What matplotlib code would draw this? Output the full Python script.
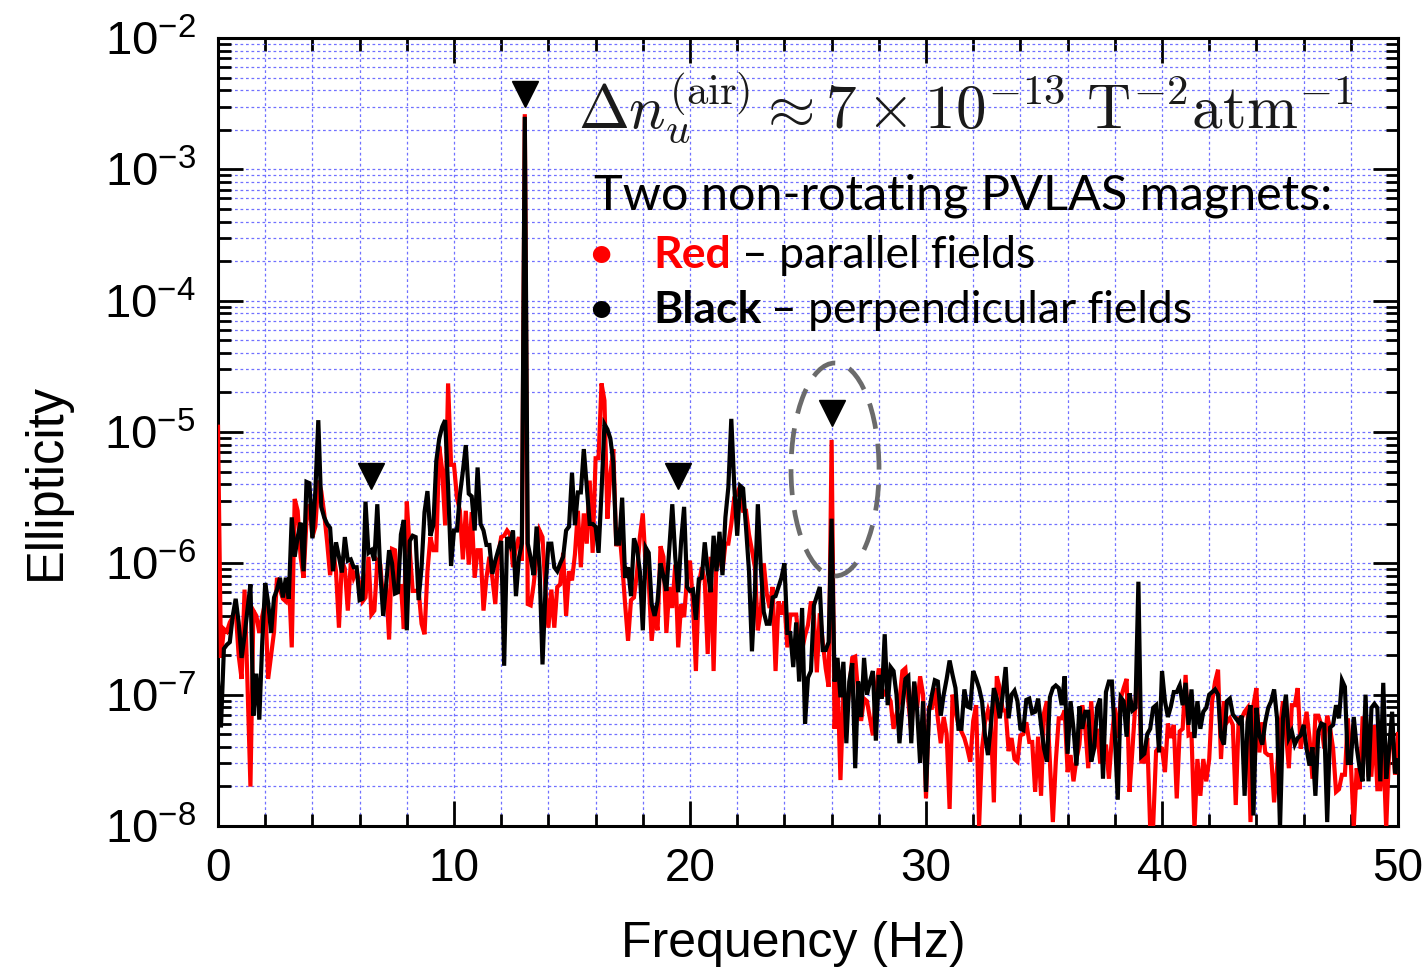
import numpy as np
import matplotlib
matplotlib.use("Agg")
import matplotlib.pyplot as plt
from matplotlib.ticker import MultipleLocator, LogLocator, NullFormatter, FixedLocator, FixedFormatter
from matplotlib.patches import Ellipse

plt.rcParams['font.family'] = ['Liberation Sans', 'DejaVu Sans']
plt.rcParams['mathtext.fontset'] = 'custom'
plt.rcParams['mathtext.rm'] = 'Liberation Sans'
plt.rcParams['mathtext.it'] = 'Liberation Sans:italic'
plt.rcParams['mathtext.bf'] = 'Liberation Sans:bold'

# ---------------- data (frequency bins 0.125 Hz, ellipticity as log10) ----------------
freq_hz = np.linspace(0, 50, 401)

black_log10 = [
    -6.9, -7.25, -6.65, -6.62, -6.6, -6.4, -6.27, -6.45, -6.72, -6.55,
    -6.35, -6.16, -7.16, -6.84, -7.19, -6.6, -6.15, -6.3, -6.53, -6.26,
    -6.2, -6.11, -6.26, -6.11, -6.27, -5.65, -5.95, -5.8, -5.69, -6.06,
    -5.38, -5.39, -5.81, -5.45, -4.91, -5.57, -5.65, -5.7, -5.73, -6.06,
    -5.84, -5.95, -6.07, -5.8, -5.98, -5.97, -6.03, -6.03, -6.28, -6.27,
    -5.53, -5.92, -5.9, -5.98, -5.55, -6.06, -6.4, -6.16, -5.9, -6.0,
    -6.23, -6.22, -5.78, -5.67, -6.51, -5.83, -5.79, -5.8, -6.28, -6.03,
    -5.61, -5.45, -5.79, -5.71, -5.22, -5.05, -4.96, -4.91, -5.42, -6.02,
    -5.75, -5.75, -5.48, -5.3, -5.1, -5.47, -5.49, -5.75, -5.27, -5.7,
    -5.75, -5.86, -5.86, -6.08, -5.98, -5.9, -5.83, -6.78, -5.8, -5.86,
    -5.75, -6.25, -5.96, -5.85, -2.6, -5.85, -5.96, -6.09, -5.72, -6.03,
    -6.77, -6.2, -5.85, -5.85, -6.03, -6.06, -6.0, -5.95, -5.75, -5.72,
    -5.31, -5.71, -5.46, -5.46, -5.13, -5.42, -5.7, -5.7, -5.72, -5.92,
    -5.46, -4.94, -4.98, -5.05, -5.23, -5.85, -5.85, -5.5, -6.11, -6.03,
    -6.25, -5.81, -5.88, -6.06, -6.51, -5.88, -5.92, -6.31, -6.4, -6.29,
    -6.0, -6.1, -6.21, -5.88, -5.55, -5.95, -6.22, -5.83, -5.57, -6.18,
    -6.21, -6.2, -6.43, -6.12, -6.11, -5.84, -6.06, -6.22, -5.79, -6.06,
    -5.76, -6.09, -5.65, -5.42, -4.9, -5.41, -5.79, -5.41, -5.43, -5.73,
    -6.06, -6.67, -6.21, -5.55, -6.03, -6.37, -6.46, -6.46, -6.26, -6.25,
    -6.18, -6.11, -6.0, -6.53, -6.53, -6.79, -6.45, -6.9, -6.34, -7.22,
    -6.87, -6.82, -6.32, -6.25, -6.18, -6.66, -6.66, -6.6, -5.66, -6.9,
    -6.72, -7.02, -6.75, -7.37, -6.9, -6.76, -7.56, -6.9, -7.17, -6.72,
    -7.0, -6.9, -6.82, -7.35, -6.85, -7.03, -6.54, -7.08, -6.79, -6.82,
    -7.0, -7.37, -7.1, -6.88, -6.86, -7.37, -6.9, -7.12, -7.52, -7.05,
    -7.74, -7.13, -7.0, -6.89, -6.9, -7.16, -7.0, -6.88, -6.74, -6.85,
    -6.95, -7.26, -7.26, -6.96, -7.09, -7.1, -6.82, -6.88, -6.95, -7.05,
    -7.31, -7.46, -7.23, -6.95, -7.03, -7.18, -7.0, -6.79, -7.18, -7.0,
    -6.97, -7.05, -7.26, -7.27, -7.04, -7.03, -7.14, -7.13, -7.03, -7.23,
    -7.41, -7.51, -7.02, -6.95, -6.93, -6.95, -7.08, -6.86, -7.45, -7.05,
    -7.26, -7.54, -7.09, -7.26, -7.13, -7.13, -7.51, -7.41, -7.1, -7.03,
    -7.64, -6.98, -6.9, -6.9, -7.3, -7.8, -7.02, -7.05, -7.32, -6.99,
    -7.12, -7.1, -6.14, -7.47, -7.45, -7.3, -7.26, -7.1, -7.08, -7.44,
    -6.82, -7.05, -7.17, -7.09, -6.98, -6.98, -6.93, -7.08, -6.91, -7.23,
    -6.96, -7.33, -7.05, -7.26, -7.13, -7.1, -7.0, -6.98, -6.96, -7.0,
    -7.32, -7.38, -7.05, -7.03, -7.15, -7.18, -7.21, -7.16, -7.77, -7.21,
    -7.08, -7.92, -7.1, -7.31, -7.38, -7.21, -7.1, -7.05, -6.96, -7.18,
    -8.02, -7.18, -7.0, -7.33, -7.28, -7.38, -7.33, -7.31, -7.23, -7.41,
    -7.54, -7.4, -7.77, -7.28, -7.22, -7.23, -7.97, -7.25, -7.23, -7.08,
    -7.18, -6.89, -6.94, -7.52, -7.52, -7.17, -7.4, -7.56, -7.66, -7.0,
    -7.66, -7.1, -7.07, -7.1, -7.66, -6.91, -7.64, -7.41, -7.13, -7.6,
    -7.5,
]

red_log10 = [
    -4.96, -6.72, -6.5, -6.52, -6.45, -6.41, -6.36, -6.7, -6.88, -6.2,
    -6.92, -7.7, -6.36, -6.4, -6.53, -6.4, -6.3, -6.88, -6.7, -6.52,
    -6.11, -6.2, -6.27, -6.29, -6.11, -6.64, -5.51, -5.6, -5.95, -6.11,
    -5.67, -5.55, -5.8, -5.72, -5.37, -5.45, -5.62, -5.84, -6.09, -5.9,
    -6.06, -6.49, -5.98, -6.04, -6.36, -6.0, -6.11, -6.06, -6.16, -6.29,
    -6.26, -5.95, -6.39, -6.36, -5.98, -6.01, -6.29, -6.16, -6.58, -5.89,
    -5.9, -6.23, -6.16, -6.5, -5.53, -5.9, -6.21, -6.21, -6.2, -6.46,
    -6.54, -6.06, -5.8, -5.9, -5.9, -5.11, -5.29, -5.71, -4.63, -5.25,
    -5.25, -5.5, -5.6, -5.97, -5.6, -6.01, -5.61, -6.11, -5.9, -5.9,
    -6.36, -6.11, -5.95, -6.11, -6.31, -5.93, -5.8, -5.79, -5.75, -5.78,
    -6.03, -5.88, -5.8, -5.98, -2.58, -6.31, -6.32, -6.16, -5.95, -5.75,
    -5.8, -6.2, -6.49, -6.2, -6.49, -6.18, -6.16, -5.92, -6.4, -6.06,
    -6.13, -5.93, -5.6, -6.03, -5.62, -5.85, -5.37, -5.92, -5.2, -5.2,
    -4.63, -4.76, -5.66, -5.32, -5.13, -5.87, -5.73, -6.0, -6.31, -6.59,
    -6.28, -6.26, -6.08, -5.8, -5.62, -6.03, -6.13, -6.59, -6.36, -6.51,
    -5.87, -5.95, -6.53, -6.18, -6.34, -6.01, -6.64, -6.31, -6.41, -6.11,
    -5.98, -6.31, -6.82, -6.16, -6.03, -6.13, -6.69, -5.95, -6.82, -5.93,
    -5.95, -6.06, -5.85, -5.85, -5.7, -5.5, -5.47, -5.41, -5.6, -5.6,
    -5.78, -5.9, -6.03, -6.51, -6.36, -6.0, -6.23, -6.34, -6.18, -6.82,
    -6.29, -6.39, -6.29, -6.64, -6.39, -6.39, -6.39, -6.62, -6.66, -6.55,
    -6.47, -6.29, -6.4, -6.83, -6.38, -6.6, -6.8, -6.94, -5.06, -7.26,
    -6.85, -7.65, -7.0, -7.18, -6.95, -6.72, -6.71, -6.99, -7.2, -7.03,
    -7.05, -7.18, -7.31, -6.98, -6.8, -6.95, -7.0, -7.0, -7.05, -7.26,
    -7.15, -7.05, -6.82, -6.8, -7.05, -7.28, -6.91, -7.1, -6.86, -7.0,
    -7.79, -7.1, -7.1, -6.95, -7.18, -7.37, -7.17, -7.3, -7.87, -7.0,
    -7.13, -7.23, -7.28, -7.33, -7.41, -7.51, -7.2, -7.08, -8.0, -7.41,
    -7.21, -7.12, -7.21, -7.82, -6.86, -6.95, -7.12, -7.12, -7.43, -7.33,
    -7.49, -7.51, -7.31, -7.3, -7.21, -7.36, -7.36, -7.74, -7.32, -7.77,
    -7.14, -7.05, -7.51, -7.97, -7.51, -7.18, -7.18, -7.12, -7.59, -7.46,
    -7.66, -7.49, -7.38, -7.08, -7.26, -7.56, -7.05, -7.41, -7.26, -7.51,
    -7.51, -7.38, -7.64, -7.33, -7.1, -7.33, -7.03, -6.95, -6.88, -7.74,
    -7.41, -7.05, -6.7, -7.51, -7.51, -7.33, -8.02, -8.0, -7.43, -7.4,
    -7.41, -7.59, -7.22, -7.33, -7.23, -7.79, -7.28, -7.26, -6.85, -7.31,
    -7.3, -8.02, -7.49, -7.77, -7.49, -7.66, -7.49, -7.05, -6.9, -6.81,
    -7.49, -7.05, -7.21, -7.18, -7.23, -7.84, -7.18, -7.18, -7.13, -7.1,
    -7.97, -7.08, -6.95, -7.44, -7.21, -7.44, -7.46, -7.46, -7.82, -7.56,
    -7.26, -7.05, -7.28, -7.56, -7.08, -7.08, -6.95, -7.41, -7.28, -7.13,
    -7.33, -7.64, -7.16, -7.16, -7.23, -7.41, -7.16, -7.26, -7.41, -7.74,
    -7.72, -7.61, -7.61, -7.18, -7.51, -8.01, -7.56, -7.72, -7.18, -7.18,
    -7.61, -7.61, -7.23, -7.72, -7.72, -7.38, -8.02, -7.41, -7.26, -7.61,
    -7.3,
]

# marked frequencies (triangles) and their heights (log10)
marker_freq = [6.5, 13.0, 19.5, 26.0]
marker_log10 = [-5.336, -2.43, -5.336, -4.855]

x_ticks = [0, 10, 20, 30, 40, 50]
x_ticklabels = ['0', '10', '20', '30', '40', '50']
y_exponents = [-8, -7, -6, -5, -4, -3, -2]

black_vals = 10.0 ** np.array(black_log10)
red_vals = 10.0 ** np.array(red_log10)
marker_vals = 10.0 ** np.array(marker_log10)

# ---------------- figure ----------------
W, H = 1428, 967
fig = plt.figure(figsize=(W / 100, H / 100), dpi=100)
ax = fig.add_axes([218 / W, 1 - 826 / H, (1398 - 218) / W, (826 - 38) / H])

ax.set_yscale('log')
ax.set_xlim(0, 50)
ax.set_ylim(1e-8, 1e-2)

grid_kw = dict(color='#7070ff', linestyle=(0, (2.2, 2.2)), linewidth=0.9)
ax.grid(True, which='both', axis='both', **grid_kw)
ax.set_axisbelow(True)

ax.plot(freq_hz, red_vals, color='#ff0000', lw=3.0, solid_joinstyle='miter', zorder=3)
ax.plot(freq_hz, black_vals, color='black', lw=3.0, solid_joinstyle='miter', zorder=4)

ax.plot(marker_freq, marker_vals, linestyle='none', marker='v', color='black',
        markersize=19, zorder=5, clip_on=False)

ell = Ellipse((0.5229, 0.4524), 88 / 1180, 213 / 788, transform=ax.transAxes,
              fill=False, edgecolor='#6b6b6b', linewidth=3.4,
              linestyle=(0, (5.5, 3.2)), zorder=6)
ax.add_patch(ell)

# ticks
ax.xaxis.set_major_locator(FixedLocator(x_ticks))
ax.xaxis.set_major_formatter(FixedFormatter(x_ticklabels))
ax.xaxis.set_minor_locator(MultipleLocator(2))
ax.yaxis.set_major_locator(FixedLocator([10.0 ** e for e in y_exponents]))
ax.yaxis.set_major_formatter(FixedFormatter([r'$\mathregular{10^{%d}}$' % e for e in y_exponents]))
ax.yaxis.set_minor_locator(LogLocator(base=10, subs=np.arange(2, 10), numticks=20))
ax.yaxis.set_minor_formatter(NullFormatter())

ax.tick_params(which='both', direction='in', top=True, right=True, width=2.0, color='black')
ax.tick_params(which='major', length=18)
ax.tick_params(which='minor', length=9)
ax.tick_params(axis='x', which='major', pad=15, labelsize=33)
ax.tick_params(axis='y', which='major', pad=16, labelsize=34)

for s in ax.spines.values():
    s.set_linewidth(2.2)

# axis labels
fig.text(793 / W, 1 - 957 / H, 'Frequency (Hz)', ha='center', va='baseline', fontsize=36)
fig.text(46 / W, 1 - 482 / H, 'Ellipticity', ha='center', va='center', rotation=90, fontsize=36.5)

# annotation texts
fig.text(578 / W, 1 - 128 / H,
         r'$\Delta n_u^{(\mathrm{air})} \approx 7 \times 10^{-13}\ \mathrm{T}^{-2}\mathrm{atm}^{-1}$',
         math_fontfamily='cm', fontsize=44, ha='left', va='baseline', color='#1a1a1a')

lfont = ['Lato', 'DejaVu Sans']
fig.text(594 / W, 1 - 209 / H, 'Two non-rotating PVLAS magnets:', family=lfont,
         fontsize=35, ha='left', va='baseline')

fig.canvas.draw()
renderer = fig.canvas.get_renderer()


def chained(x_px, y_px, parts, size):
    """Draw consecutive text pieces on one baseline, each starting where the last ended."""
    x = x_px
    for txt, color, weight, gap in parts:
        t = fig.text(x / W, 1 - y_px / H, txt, family=lfont, fontsize=size, ha='left',
                     va='baseline', color=color, fontweight=weight)
        bb = t.get_window_extent(renderer)
        x = bb.x1 + gap


fig.text(601 / W, 1 - 268 / H, '\u2022', family=lfont, fontsize=34, ha='center',
         va='baseline', color='#ff0000')
chained(653, 268, [('Red', '#ff0000', 'bold', 11), ('\u2013 parallel fields', 'black', 'normal', 0)], 32)
fig.text(601 / W, 1 - 323 / H, '\u2022', family=lfont, fontsize=34, ha='center',
         va='baseline', color='black')
chained(653, 323, [('Black', 'black', 'bold', 10), ('\u2013 perpendicular fields', 'black', 'normal', 0)], 32)

fig.savefig('out.png', dpi=100)
